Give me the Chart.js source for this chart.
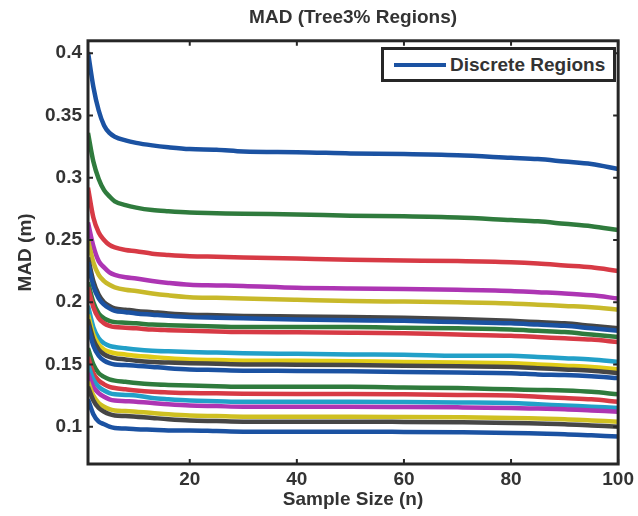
<!DOCTYPE html>
<html>
<head>
<meta charset="utf-8">
<script src="https://cdn.jsdelivr.net/npm/chart.js@4"></script>
<style>
  html, body { margin: 0; padding: 0; background: #fff; }
  #wrap { position: relative; width: 638px; height: 516px; }
  #mad-chart { position: absolute; left: 0; top: 0; }
  #legend {
    position: absolute; left: 381px; top: 47px; width: 235px; height: 35px;
    box-sizing: border-box; border: 3px solid #262626; background: #fff;
    font: bold 19px "Liberation Sans", Arial, sans-serif; color: #333;
  }
  #legend .swatch { position: absolute; left: 10px; top: 13px; width: 52px; height: 4px; }
  #legend .label { position: absolute; left: 66px; top: 4px; white-space: nowrap; }
</style>
</head>
<body>
<div id="wrap">
  <canvas id="mad-chart" width="638" height="516"></canvas>
  <div id="legend"></div>
</div>
<script>
// --- Data ---
const sampleSize = [1, 2, 3, 4, 5, 6, 8, 10, 13, 16, 20, 25, 30, 40, 50, 60, 70, 80, 85, 90, 95, 100];
const xTicks = [20, 40, 60, 80, 100];
const yTicks = [0.1, 0.15, 0.2, 0.25, 0.3, 0.35, 0.4];

const region1  = [0.401, 0.373, 0.354, 0.342, 0.336, 0.333, 0.330, 0.328, 0.326, 0.3245, 0.323, 0.3225, 0.321, 0.3205, 0.3195, 0.319, 0.318, 0.316, 0.315, 0.313, 0.311, 0.307];
const region2  = [0.336, 0.313, 0.299, 0.290, 0.285, 0.281, 0.278, 0.276, 0.274, 0.273, 0.272, 0.2715, 0.271, 0.2705, 0.2695, 0.269, 0.268, 0.266, 0.265, 0.263, 0.261, 0.258];
const region3  = [0.292, 0.268, 0.256, 0.250, 0.246, 0.244, 0.242, 0.241, 0.239, 0.238, 0.237, 0.2365, 0.236, 0.235, 0.234, 0.2335, 0.233, 0.232, 0.231, 0.2295, 0.228, 0.225];
const region4  = [0.264, 0.245, 0.233, 0.228, 0.224, 0.222, 0.220, 0.219, 0.217, 0.2155, 0.214, 0.2135, 0.213, 0.2115, 0.211, 0.2105, 0.210, 0.209, 0.208, 0.207, 0.2055, 0.203];
const region5  = [0.250, 0.232, 0.222, 0.217, 0.214, 0.212, 0.210, 0.209, 0.207, 0.2055, 0.204, 0.2035, 0.203, 0.202, 0.201, 0.2005, 0.200, 0.199, 0.198, 0.197, 0.196, 0.194];
const region6  = [0.236, 0.217, 0.206, 0.200, 0.197, 0.195, 0.194, 0.193, 0.192, 0.191, 0.190, 0.1895, 0.189, 0.1885, 0.188, 0.1875, 0.1865, 0.185, 0.184, 0.183, 0.181, 0.179];
const region7  = [0.232, 0.213, 0.203, 0.198, 0.195, 0.193, 0.192, 0.191, 0.190, 0.189, 0.188, 0.1875, 0.187, 0.186, 0.1855, 0.185, 0.184, 0.183, 0.182, 0.181, 0.179, 0.177];
const region8  = [0.216, 0.200, 0.191, 0.187, 0.185, 0.184, 0.1835, 0.183, 0.182, 0.1815, 0.181, 0.1805, 0.180, 0.180, 0.180, 0.1795, 0.179, 0.178, 0.177, 0.176, 0.174, 0.172];
const region9  = [0.212, 0.196, 0.187, 0.183, 0.181, 0.180, 0.1795, 0.179, 0.178, 0.1775, 0.177, 0.1765, 0.176, 0.1758, 0.1755, 0.175, 0.174, 0.173, 0.172, 0.171, 0.170, 0.168];
const region10 = [0.197, 0.180, 0.171, 0.167, 0.165, 0.164, 0.163, 0.162, 0.161, 0.1605, 0.160, 0.1595, 0.159, 0.1585, 0.158, 0.1578, 0.157, 0.157, 0.156, 0.155, 0.154, 0.152];
const region11 = [0.190, 0.174, 0.166, 0.162, 0.160, 0.159, 0.158, 0.157, 0.156, 0.155, 0.154, 0.1535, 0.153, 0.153, 0.1525, 0.152, 0.1515, 0.151, 0.150, 0.149, 0.148, 0.146];
const region12 = [0.186, 0.170, 0.162, 0.158, 0.156, 0.155, 0.154, 0.153, 0.152, 0.1515, 0.151, 0.1505, 0.150, 0.1498, 0.1495, 0.149, 0.1485, 0.148, 0.147, 0.146, 0.145, 0.143];
const region13 = [0.181, 0.165, 0.157, 0.153, 0.151, 0.150, 0.1495, 0.149, 0.148, 0.147, 0.146, 0.1455, 0.145, 0.1448, 0.1445, 0.144, 0.1435, 0.143, 0.142, 0.1415, 0.1405, 0.139];
const region14 = [0.163, 0.150, 0.143, 0.140, 0.138, 0.137, 0.136, 0.135, 0.134, 0.1335, 0.133, 0.1325, 0.132, 0.132, 0.132, 0.1315, 0.131, 0.130, 0.1295, 0.129, 0.128, 0.126];
const region15 = [0.156, 0.143, 0.137, 0.134, 0.132, 0.131, 0.130, 0.129, 0.128, 0.1275, 0.127, 0.1268, 0.1265, 0.1263, 0.1263, 0.126, 0.1255, 0.125, 0.124, 0.123, 0.122, 0.120];
const region16 = [0.150, 0.138, 0.132, 0.129, 0.127, 0.126, 0.1255, 0.125, 0.123, 0.122, 0.121, 0.1205, 0.120, 0.120, 0.120, 0.1198, 0.1195, 0.119, 0.118, 0.117, 0.116, 0.115];
const region17 = [0.143, 0.132, 0.127, 0.124, 0.122, 0.121, 0.1205, 0.120, 0.119, 0.118, 0.117, 0.1165, 0.116, 0.116, 0.116, 0.1158, 0.1155, 0.115, 0.1145, 0.114, 0.113, 0.112];
const region18 = [0.136, 0.125, 0.119, 0.116, 0.114, 0.113, 0.1125, 0.112, 0.111, 0.110, 0.109, 0.1085, 0.108, 0.108, 0.108, 0.1078, 0.1075, 0.107, 0.1065, 0.106, 0.105, 0.104];
const region19 = [0.132, 0.121, 0.115, 0.112, 0.110, 0.109, 0.1085, 0.108, 0.107, 0.106, 0.105, 0.1045, 0.104, 0.104, 0.104, 0.1038, 0.1035, 0.103, 0.1025, 0.102, 0.101, 0.100];
const region20 = [0.122, 0.110, 0.104, 0.102, 0.100, 0.099, 0.0985, 0.098, 0.0975, 0.097, 0.097, 0.0965, 0.096, 0.096, 0.096, 0.0958, 0.0955, 0.095, 0.0945, 0.094, 0.093, 0.092];

const regions = [region1, region2, region3, region4, region5, region6, region7, region8, region9, region10,
                 region11, region12, region13, region14, region15, region16, region17, region18, region19, region20];

// line colours, one per region (scanned MATLAB palette)
const BLUE = '#1b52a2', GREEN = '#2f7b3d', RED = '#d73a45', MAGENTA = '#ad35b3',
      YELLOW = '#cfc021', CYAN = '#22a0c8', DARK = '#464646';
const lineColors = [BLUE, GREEN, RED, MAGENTA, '#c8b92a', DARK, BLUE, GREEN, RED, CYAN,
                    '#e0cc18', DARK, BLUE, GREEN, RED, CYAN, MAGENTA, YELLOW, DARK, BLUE];

const FONT = { family: '"Liberation Sans", Arial, sans-serif', size: 19, weight: 'bold', lineHeight: 1.2 };
const TEXT = '#333';

// box round the plot with inward ticks on all four sides
const boxPlugin = {
  id: 'box',
  afterDraw(chart) {
    const { ctx, chartArea: a, scales: { x, y } } = chart;
    ctx.save();
    ctx.strokeStyle = '#262626';
    ctx.lineWidth = 2;
    ctx.beginPath();
    xTicks.forEach(v => {
      const px = x.getPixelForValue(v);
      ctx.moveTo(px, a.bottom); ctx.lineTo(px, a.bottom - 5);
      ctx.moveTo(px, a.top); ctx.lineTo(px, a.top + 5);
    });
    yTicks.forEach(v => {
      const py = y.getPixelForValue(v);
      ctx.moveTo(a.left, py); ctx.lineTo(a.left + 5, py);
      ctx.moveTo(a.right, py); ctx.lineTo(a.right - 5, py);
    });
    ctx.stroke();
    ctx.lineWidth = 3;
    ctx.strokeRect(a.left, a.top, a.right - a.left, a.bottom - a.top);
    ctx.restore();
  }
};

const madChart = new Chart(document.getElementById('mad-chart'), {
  type: 'line',
  data: {
    datasets: regions.map((vals, i) => ({
      label: 'Discrete Regions',
      data: vals.map((v, j) => ({ x: sampleSize[j], y: v })),
      borderColor: lineColors[i],
      borderWidth: 4.5,
      pointRadius: 0,
      cubicInterpolationMode: 'monotone',
      fill: false,
      order: regions.length - i, // later curves drawn on top, like MATLAB
    }))
  },
  options: {
    responsive: false,
    animation: false,
    layout: { padding: { left: 0, right: 16, top: 0, bottom: 0 } },
    plugins: {
      legend: { display: false },
      tooltip: { enabled: false },
      title: {
        display: true,
        text: 'MAD (Tree3% Regions)',
        fullSize: false,
        color: TEXT,
        font: FONT,
        padding: { top: 6, bottom: 12 },
      },
    },
    scales: {
      x: {
        type: 'linear',
        min: 1,
        max: 100,
        afterBuildTicks: s => { s.ticks = xTicks.map(v => ({ value: v })); },
        afterFit: s => { s.height = 52; },
        grid: { display: false, drawTicks: false },
        border: { display: false },
        ticks: { color: TEXT, font: FONT, padding: 4, maxRotation: 0 },
        title: { display: true, text: 'Sample Size (n)', color: TEXT, font: FONT, padding: { top: 0, bottom: 5 } },
      },
      y: {
        min: 0.07,
        max: 0.41,
        afterBuildTicks: s => { s.ticks = yTicks.map(v => ({ value: v })); },
        afterFit: s => { s.width = 88; },
        grid: { display: false, drawTicks: false },
        border: { display: false },
        ticks: { color: TEXT, font: FONT, padding: 6, callback: v => String(+v.toFixed(2)) },
        title: { display: true, text: 'MAD (m)', color: TEXT, font: FONT, padding: { top: 14, bottom: 0 } },
      },
    },
  },
  plugins: [boxPlugin],
});

// legend: MATLAB shows a single entry for the whole family of curves
const first = madChart.data.datasets[0];
document.getElementById('legend').innerHTML =
  `<span class="swatch" style="background:${first.borderColor}"></span><span class="label">${first.label}</span>`;
</script>
</body>
</html>
